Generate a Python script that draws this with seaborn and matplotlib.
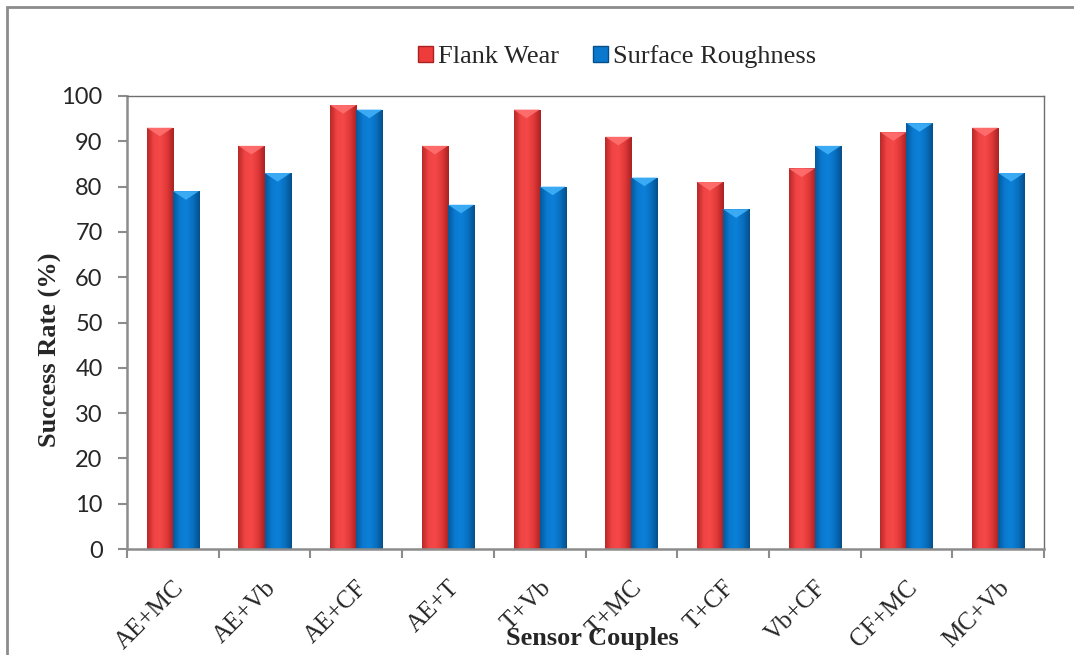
import numpy as np
import pandas as pd
import matplotlib
matplotlib.use("Agg")
import matplotlib.pyplot as plt
import seaborn as sns
from matplotlib.colors import LinearSegmentedColormap
from matplotlib.patches import Rectangle, Polygon
from matplotlib.transforms import ScaledTranslation

categories = ["AE+MC", "AE+Vb", "AE+CF", "AE+T", "T+Vb", "T+MC", "T+CF", "Vb+CF", "CF+MC", "MC+Vb"]
flank_wear = [93, 89, 98, 89, 97, 91, 81, 84, 92, 93]
surface_roughness = [79, 83, 97, 76, 80, 82, 75, 89, 94, 83]
series_names = ["Flank Wear", "Surface Roughness"]
y_ticks = [0, 10, 20, 30, 40, 50, 60, 70, 80, 90, 100]

df = pd.DataFrame({
    "Sensor Couples": categories * 2,
    "Success Rate (%)": flank_wear + surface_roughness,
    "Series": [series_names[0]] * len(categories) + [series_names[1]] * len(categories),
})

sns.set_style("white")
plt.rcParams["font.family"] = ["Lato", "DejaVu Sans"]

red = "#EE3B3B"
blue = "#0A78CC"
fig = plt.figure(figsize=(10.74, 6.55), dpi=100)
ax = fig.add_axes([127 / 1074, 1 - 549 / 655, (1044 - 127) / 1074, (549 - 96) / 655])

sns.barplot(data=df, x="Sensor Couples", y="Success Rate (%)", hue="Series",
            palette=[red, blue], width=0.57, gap=0, ax=ax, legend=False,
            saturation=1, linewidth=0)

# gradient shading for bars
grads = {
    0: LinearSegmentedColormap.from_list("r", ["#B82828", "#F04444", "#F54848", "#E03838", "#A82222"]),
    1: LinearSegmentedColormap.from_list("b", ["#06589A", "#0A7AD0", "#0C80D8", "#0870C0", "#054F8C"]),
}
tops = {0: "#FF7070", 1: "#40B0F8"}
patches = list(ax.patches)
n = len(categories)
for i, p in enumerate(patches):
    s = 0 if i < n else 1
    x0, y0 = p.get_x(), p.get_y()
    w, h = p.get_width(), p.get_height()
    g = np.linspace(0, 1, 64).reshape(1, -1)
    im = ax.imshow(g, cmap=grads[s], aspect="auto", extent=[x0, x0 + w, y0, y0 + h],
                   zorder=p.get_zorder() + 0.1, interpolation="bicubic")
    im.set_clip_path(p)
    tri_h = 1.9
    ax.add_patch(Polygon([[x0, y0 + h], [x0 + w, y0 + h], [x0 + w / 2, y0 + h - tri_h]],
                         closed=True, facecolor=tops[s], edgecolor="none",
                         zorder=p.get_zorder() + 0.2, alpha=0.9))

ax.set_xlim(-0.5, n - 0.5)
ax.set_ylim(0, 100)
ax.set_yticks(y_ticks)
ax.set_yticklabels([str(t) for t in y_ticks], fontsize=17, fontfamily="Lato")
ax.set_xticks(np.arange(n + 1) - 0.5, minor=True)
ax.set_xticks(np.arange(n))
ax.set_xticklabels(categories, rotation=45, ha="right", rotation_mode="anchor",
                   fontsize=18, fontfamily="Liberation Serif")
shift = ScaledTranslation(-5 / 100, 0, fig.dpi_scale_trans)
for lbl in ax.get_xticklabels():
    lbl.set_transform(lbl.get_transform() + shift)
ax.tick_params(axis="x", which="major", length=0, pad=20)
ax.tick_params(axis="x", which="minor", length=6.5, color="#8C8C8C", width=1.5, direction="out", bottom=True)
ax.tick_params(axis="y", length=6.5, color="#8C8C8C", width=1.5, direction="out", left=True, pad=11)

for side in ["left", "bottom"]:
    ax.spines[side].set_color("#8C8C8C")
    ax.spines[side].set_linewidth(1.8)
for side in ["top", "right"]:
    ax.spines[side].set_color("#6E6E6E")
    ax.spines[side].set_linewidth(1.0)
    ax.spines[side].set_visible(True)

ax.set_ylabel("")
ax.set_xlabel("")
fig.text(50 / 1074, 1 - 350 / 655, "Success Rate (%)", fontsize=19, fontweight="bold",
         fontfamily="Liberation Serif", ha="center", va="center", rotation=90)
fig.text(592 / 1074, 1 - 638 / 655, "Sensor Couples", fontsize=19, fontweight="bold",
         fontfamily="Liberation Serif", ha="center", va="center")

handles = [Rectangle((0, 0), 1, 1, facecolor=red, edgecolor="#A82222"),
           Rectangle((0, 0), 1, 1, facecolor=blue, edgecolor="#054F8C")]
fig.legend(handles, series_names, loc="center", bbox_to_anchor=(617 / 1074, 1 - 57 / 655),
           ncol=2, frameon=False, prop={"family": "Liberation Serif", "size": 19},
           handlelength=0.55, handleheight=0.55, handletextpad=0.2, columnspacing=1.3)

# outer chart frame
fig.patches.append(Rectangle((7 / 1074, -0.05), 1.2, 1 - 7 / 655 + 0.05, transform=fig.transFigure,
                             fill=False, edgecolor="#8C8C8C", linewidth=2, zorder=-1))

fig.savefig("out.png", dpi=100)
